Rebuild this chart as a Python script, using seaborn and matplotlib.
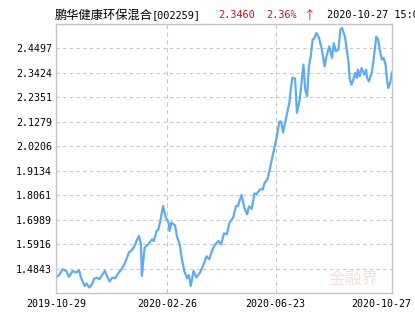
import matplotlib
matplotlib.use("Agg")
import matplotlib.pyplot as plt
import matplotlib.transforms as mtransforms
import seaborn as sns
import pandas as pd
import numpy as np

# ---- data ----
start_date = "2019-10-29"
day_offset = [0, 4, 7, 11, 14, 18, 22, 25, 27, 31, 33, 36, 39, 41, 44, 47, 51, 53, 56, 58,
              61, 64, 68, 71, 74, 77, 79, 82, 85, 88, 90, 92, 93, 96, 100, 104, 106, 109, 111, 113,
              116, 119, 122, 123, 125, 129, 131, 134, 136, 139, 142, 144, 146, 149, 152, 156, 160, 163, 166, 169,
              172, 176, 179, 182, 185, 188, 192, 195, 197, 201, 204, 207, 209, 212, 215, 217, 221, 224, 226, 229,
              232, 235, 239, 242, 244, 246, 250, 253, 254, 256, 259, 261, 264, 266, 268, 270, 272, 274, 276, 278,
              280, 282, 285, 288, 291, 293, 296, 299, 301, 303, 306, 308, 310, 311, 313, 317, 318, 320, 321, 324,
              326, 327, 329, 331, 334, 336, 337, 339, 342, 344, 346, 347, 349, 351, 353, 355, 357, 359, 360, 362,
              364]
nav = [1.4449, 1.4593, 1.4812, 1.4738, 1.4475, 1.4738, 1.4668, 1.4769, 1.4449, 1.4081,
       1.4186, 1.4011, 1.4156, 1.4375, 1.4449, 1.4375, 1.4624, 1.4738, 1.4449, 1.4274,
       1.4449, 1.4418, 1.4668, 1.4812, 1.5031, 1.5325, 1.5543, 1.5644, 1.5832, 1.6126,
       1.6270, 1.5907, 1.4519, 1.5762, 1.5907, 1.6126, 1.6051, 1.6489, 1.6564, 1.6927,
       1.7584, 1.7076, 1.6857, 1.6489, 1.6857, 1.6739, 1.6257, 1.5907, 1.5338, 1.4725,
       1.4418, 1.4550, 1.4081, 1.4738, 1.4449, 1.4668, 1.5031, 1.5381, 1.5250, 1.5622,
       1.5885, 1.6051, 1.5907, 1.6388, 1.6345, 1.6857, 1.7089, 1.7584, 1.7584, 1.8074,
       1.7514, 1.7220, 1.7571, 1.7461, 1.8140, 1.8096, 1.8315, 1.8315, 1.8599, 1.8753,
       1.9278, 1.9847, 2.0591, 2.1292, 2.1292, 2.0810, 2.1598, 2.2167, 2.2605, 2.3205,
       2.3174, 2.1673, 2.2255, 2.2986, 2.3787, 2.2693, 2.2399, 2.3713, 2.4151, 2.4882,
       2.4956, 2.5175, 2.4956, 2.4444, 2.3713, 2.4151, 2.4588, 2.4081, 2.4737, 2.4370,
       2.4444, 2.5320, 2.5394, 2.5245, 2.5026, 2.3862, 2.3205, 2.2912, 2.2986, 2.3424,
       2.3205, 2.3568, 2.3275, 2.3643, 2.3349, 2.3568, 2.3205, 2.3056, 2.3424, 2.4006,
       2.4663, 2.5013, 2.4882, 2.4370, 2.4006, 2.4081, 2.3787, 2.2986, 2.2767, 2.2986,
       2.3460]
y_ticks = [1.4843, 1.5916, 1.6989, 1.8061, 1.9134, 2.0206, 2.1279, 2.2351, 2.3424, 2.4497]
y_range = [1.3770, 2.5570]
x_tick_labels = ["2019-10-29", "2020-02-26", "2020-06-23", "2020-10-27"]
fund_name = "鹏华健康环保混合"
fund_code = "[002259]"
last_nav = "2.3460"
last_change = "2.36%"
change_arrow = "↑"
last_time = "2020-10-27 15:00"

# ---- build ----
dates = pd.Timestamp(start_date) + pd.to_timedelta(day_offset, unit="D")
df = pd.DataFrame({"date": dates, "nav": nav})

sns.set_style("white")
plt.rcParams["font.family"] = ["DejaVu Sans Mono"]

fig = plt.figure(figsize=(4.15, 3.30), dpi=100)
ax = fig.add_axes([56 / 415, 1 - 293 / 330, (392 - 56) / 415, (293 - 24) / 330])

sns.lineplot(data=df, x="date", y="nav", ax=ax, color="#5eabf3", linewidth=1.6)

xt = pd.to_datetime(x_tick_labels)
ax.set_xlim(xt[0], xt[-1])
ax.set_ylim(*y_range)
ax.set_yticks(y_ticks)
ax.set_yticklabels([f"{v:.4f}" for v in y_ticks])
ax.set_xticks(xt)
ax.set_xticklabels(x_tick_labels)
ax.set_xlabel("")
ax.set_ylabel("")
ax.tick_params(axis="both", length=0, labelsize=7.2, colors="#000000")
ax.tick_params(axis="y", pad=3)
ax.tick_params(axis="x", pad=4)

# last x label shifted left so it stays inside the figure
lbls = ax.get_xticklabels()
lbls[-1].set_transform(lbls[-1].get_transform() +
                       mtransforms.ScaledTranslation(-11 / 100, 0, fig.dpi_scale_trans))

for v in y_ticks:
    ax.axhline(v, color="#c8c8c8", linewidth=0.8, linestyle=(0, (3, 3)), zorder=0)
for d in xt[1:-1]:
    ax.axvline(d, color="#c8c8c8", linewidth=0.8, linestyle=(0, (4, 3)), zorder=0)

for s in ax.spines.values():
    s.set_color("#c4c4c4")
    s.set_linewidth(1.0)

# watermark
ax.text(0.96, 0.02, "金融界", transform=ax.transAxes, ha="right", va="bottom",
        fontsize=12, color="#f6dede", family=["Noto Sans CJK SC", "DejaVu Sans"], zorder=0)

# title line
ty = 1 - 15 / 330
fig.text(55 / 415, ty, fund_name, ha="left", va="center", fontsize=8.8,
         family=["Noto Sans CJK SC", "DejaVu Sans"], color="#000000")
fig.text(152 / 415, ty, fund_code, ha="left", va="center", fontsize=7.4, color="#000000")
fig.text(218 / 415, ty, last_nav, ha="left", va="center", fontsize=7.4, color="#c8141e")
fig.text(266 / 415, ty, last_change, ha="left", va="center", fontsize=7.4, color="#c8141e")
fig.text(304 / 415, ty, change_arrow, ha="left", va="center", fontsize=8.5, color="#c8141e",
         family=["Noto Sans CJK SC", "DejaVu Sans"])
fig.text(327 / 415, ty, last_time, ha="left", va="center", fontsize=7.4, color="#000000")

fig.savefig("out.png", dpi=100)
